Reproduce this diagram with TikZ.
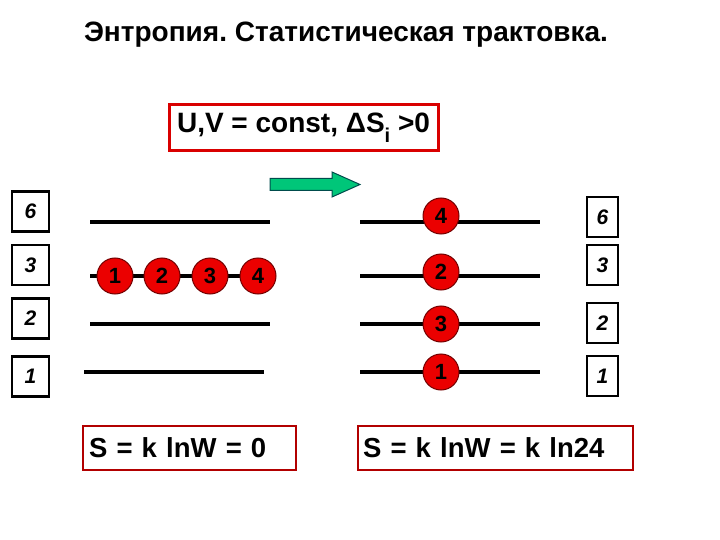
\documentclass[tikz,border=0pt]{standalone}
\usepackage{fontspec}
\setmainfont{Liberation Sans}
\begin{document}
\frenchspacing
\begin{tikzpicture}[x=1pt,y=-1pt,
  lvl/.style={line width=4pt,black},
  ball/.style={circle,fill=red!92!black,draw=red!45!black,line width=1pt,minimum size=36pt,inner sep=0pt,font=\fontsize{22}{22}\selectfont\bfseries},
  lbox/.style={draw=black,line width=2.2pt,fill=white,minimum height=40pt,inner sep=0pt,font=\fontsize{21}{21}\selectfont\bfseries\itshape},
  redbox/.style={draw=red!85!black,line width=3pt,inner sep=0pt,font=\fontsize{28}{28}\selectfont\bfseries},
  sbox/.style={draw=red!70!black,line width=2pt,inner sep=0pt,font=\fontsize{27.5}{28}\selectfont\bfseries}]
\useasboundingbox (0,0) rectangle (720,540);
% title
\node[font=\fontsize{28}{28}\selectfont\bfseries,anchor=base] (title) at (346,42) {Энтропия. Статистическая трактовка.};
% condition box
\node[redbox,minimum width=269pt,minimum height=46pt] (cond) at (303.5,128) {U,V = const, ΔS\raisebox{-0.35em}{\fontsize{20}{20}\selectfont i} >0};
% green arrow
\draw[fill=teal!60!green!75!cyan,draw=teal!60!black,line width=1pt] (270,178.5) -- (332,178.5) -- (332,172) -- (360,184.5) -- (332,197) -- (332,190.5) -- (270,190.5) -- cycle;
% left levels
\coordinate (L6a) at (90,222); \coordinate (L6b) at (270,222);
\coordinate (L3a) at (90,276); \coordinate (L3b) at (270,276);
\coordinate (L2a) at (90,324); \coordinate (L2b) at (270,324);
\coordinate (L1a) at (84,372); \coordinate (L1b) at (264,372);
\draw[lvl] (L6a) -- (L6b);
\draw[lvl] (L3a) -- (L3b);
\draw[lvl] (L2a) -- (L2b);
\draw[lvl] (L1a) -- (L1b);
\node[ball] (a1) at (115,276) {1};
\node[ball] (a2) at (162,276) {2};
\node[ball] (a3) at (210,276) {3};
\node[ball] (a4) at (258,276) {4};
% right levels
\coordinate (R6a) at (360,222); \coordinate (R6b) at (540,222);
\coordinate (R3a) at (360,276); \coordinate (R3b) at (540,276);
\coordinate (R2a) at (360,324); \coordinate (R2b) at (540,324);
\coordinate (R1a) at (360,372); \coordinate (R1b) at (540,372);
\draw[lvl] (R6a) -- (R6b);
\draw[lvl] (R3a) -- (R3b);
\draw[lvl] (R2a) -- (R2b);
\draw[lvl] (R1a) -- (R1b);
\node[ball] (b4) at (441,216) {4};
\node[ball] (b2) at (441,272) {2};
\node[ball] (b3) at (441,324) {3};
\node[ball] (b1) at (441,372) {1};
% left energy boxes
\node[lbox,minimum width=37pt] (e6l) at (30.5,211.5) {6};
\node[lbox,minimum width=37pt] (e3l) at (30.5,265) {3};
\node[lbox,minimum width=37pt] (e2l) at (30.5,318.5) {2};
\node[lbox,minimum width=37pt] (e1l) at (30.5,376.5) {1};
% right energy boxes
\node[lbox,minimum width=31pt] (e6r) at (602.5,217) {6};
\node[lbox,minimum width=31pt] (e3r) at (602.5,265) {3};
\node[lbox,minimum width=31pt] (e2r) at (602.5,323) {2};
\node[lbox,minimum width=31pt] (e1r) at (602.5,376) {1};
% entropy boxes
\node[sbox,minimum width=213pt,minimum height=44pt,text width=200pt,align=left] (s0) at (189,447.5) {S = k lnW = 0};
\node[sbox,minimum width=275pt,minimum height=44pt,text width=264pt,align=left] (s24) at (495,447.5) {S = k lnW = k ln24};
\end{tikzpicture}
\end{document}
